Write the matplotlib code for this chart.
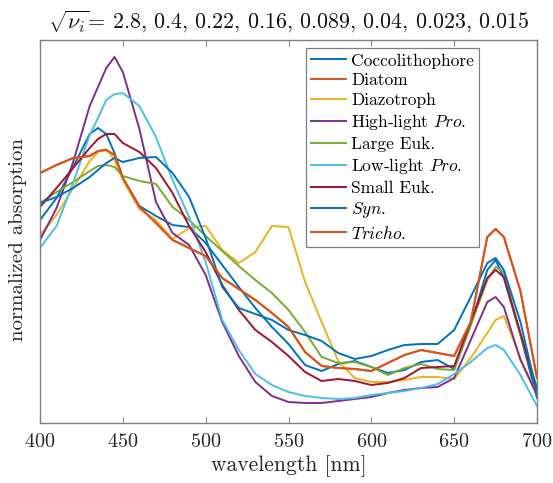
import matplotlib
matplotlib.use("Agg")
import matplotlib.pyplot as plt

# --- dados (absorção normalizada, unidades relativas) ---
wavelength = [400, 410, 420, 430, 435, 440, 445, 450, 460, 470, 480, 490, 500, 510,
              520, 530, 540, 550, 560, 570, 580, 590, 600, 610, 620, 630, 640, 650,
              660, 670, 675, 680, 690, 700]

coccolithophore = [2.03, 2.25, 2.56, 2.89, 2.95, 2.89, 2.70, 2.45, 2.17, 2.07, 1.98, 1.96,
                   1.80, 1.58, 1.36, 1.15, 0.96, 0.79, 0.58, 0.52, 0.59, 0.62, 0.56, 0.50,
                   0.53, 0.61, 0.63, 0.54, 0.98, 1.53, 1.63, 1.45, 0.88, 0.25]
diatom = [2.50, 2.58, 2.65, 2.67, 2.72, 2.73, 2.68, 2.45, 2.16, 2.00, 1.83, 1.75,
          1.67, 1.45, 1.34, 1.23, 1.10, 0.96, 0.71, 0.57, 0.55, 0.54, 0.52, 0.60,
          0.68, 0.73, 0.70, 0.67, 1.01, 1.86, 1.94, 1.86, 1.32, 0.45]
diazotroph = [1.88, 2.08, 2.35, 2.62, 2.71, 2.74, 2.63, 2.43, 2.14, 2.03, 1.84, 1.95,
              1.97, 1.73, 1.60, 1.71, 1.97, 1.96, 1.41, 1.01, 0.62, 0.45, 0.41, 0.41,
              0.43, 0.46, 0.46, 0.44, 0.65, 0.90, 1.03, 1.07, 0.65, 0.28]
high_light_pro = [1.83, 2.15, 2.61, 3.17, 3.36, 3.55, 3.66, 3.51, 2.94, 2.21, 1.90, 1.78,
                  1.48, 1.01, 0.67, 0.41, 0.27, 0.21, 0.20, 0.20, 0.22, 0.24, 0.26, 0.30,
                  0.33, 0.35, 0.36, 0.45, 0.83, 1.21, 1.26, 1.16, 0.63, 0.28]
large_euk = [2.20, 2.31, 2.41, 2.52, 2.57, 2.58, 2.56, 2.47, 2.42, 2.39, 2.16, 2.03,
             1.87, 1.72, 1.57, 1.43, 1.30, 1.13, 0.91, 0.66, 0.60, 0.61, 0.56, 0.48,
             0.55, 0.59, 0.54, 0.53, 0.98, 1.43, 1.56, 1.51, 0.88, 0.36]
low_light_pro = [1.75, 1.97, 2.40, 2.88, 3.05, 3.23, 3.29, 3.30, 3.17, 2.86, 2.43, 2.06,
                 1.61, 1.03, 0.73, 0.49, 0.38, 0.31, 0.27, 0.25, 0.24, 0.25, 0.28, 0.30,
                 0.32, 0.35, 0.39, 0.49, 0.61, 0.75, 0.78, 0.73, 0.48, 0.17]
small_euk = [2.16, 2.35, 2.55, 2.75, 2.84, 2.89, 2.89, 2.80, 2.71, 2.55, 2.30, 1.97,
             1.71, 1.38, 1.13, 0.93, 0.81, 0.67, 0.51, 0.42, 0.44, 0.42, 0.38, 0.40,
             0.45, 0.55, 0.56, 0.57, 1.01, 1.45, 1.53, 1.46, 0.90, 0.33]
syn = [2.20, 2.26, 2.35, 2.46, 2.53, 2.60, 2.65, 2.61, 2.65, 2.66, 2.50, 2.26,
       1.85, 1.36, 1.15, 1.09, 1.03, 0.93, 0.88, 0.82, 0.70, 0.64, 0.67, 0.73,
       0.78, 0.79, 0.79, 0.93, 1.26, 1.60, 1.65, 1.53, 1.01, 0.30]
tricho = [2.50, 2.58, 2.65, 2.67, 2.72, 2.73, 2.68, 2.45, 2.16, 2.00, 1.83, 1.75,
          1.67, 1.45, 1.34, 1.23, 1.10, 0.96, 0.71, 0.57, 0.55, 0.54, 0.52, 0.60,
          0.68, 0.73, 0.70, 0.67, 1.01, 1.86, 1.94, 1.86, 1.32, 0.45]

labels = ['Coccolithophore', 'Diatom', 'Diazotroph', r'High-light $\mathit{Pro.}$',
          'Large Euk.', r'Low-light $\mathit{Pro.}$', 'Small Euk.', r'$\mathit{Syn.}$',
          r'$\mathit{Tricho.}$']
sqrt_nu = ['2.8', '0.4', '0.22', '0.16', '0.089', '0.04', '0.023', '0.015']

# cores padrão do MATLAB
cores = ['#0072BD', '#D95319', '#EDB120', '#7E2F8E', '#77AC30',
         '#4DBEEE', '#A2142F', '#0072BD', '#D95319']


def main():
    plt.rcParams['font.family'] = 'cmr10'
    plt.rcParams['mathtext.fontset'] = 'cm'
    plt.rcParams['axes.formatter.use_mathtext'] = True

    series = [coccolithophore, diatom, diazotroph, high_light_pro, large_euk,
              low_light_pro, small_euk, syn, tricho]

    fig = plt.figure(figsize=(5.53, 4.83), dpi=100)
    ax = fig.add_axes([40 / 553, 1 - 423 / 483, 497 / 553, 383 / 483])

    for y, lab, c in zip(series, labels, cores):
        ax.plot(wavelength, y, color=c, lw=1.4, label=lab)

    ax.set_xlim(400, 700)
    ax.set_ylim(0, 3.83)
    ax.set_xticks(range(400, 701, 50))
    ax.set_yticks([])
    ax.tick_params(axis='x', direction='in', top=True, length=4, width=0.8,
                   color='#808080', labelsize=14.5, labelcolor='#262626', pad=7)
    for s in ax.spines.values():
        s.set_color('#808080')
        s.set_linewidth(1.0)

    ax.set_xlabel('wavelength [nm]', fontsize=15.5, color='#262626', labelpad=3)
    ax.set_ylabel('normalized absorption', fontsize=15, color='#262626')
    ax.yaxis.set_label_coords(-0.026, 0.48)
    ax.set_title(r'$\sqrt{\nu_i}$= ' + ', '.join(sqrt_nu), fontsize=15.8,
                 color='#111111', pad=8)

    leg = ax.legend(loc='upper left', bbox_to_anchor=(306 / 553, 1 - 48 / 483),
                    bbox_transform=fig.transFigure, borderaxespad=0, fontsize=12.5,
                    labelspacing=0.25, handlelength=2.0, handletextpad=0.3,
                    borderpad=0.3, fancybox=False, framealpha=1)
    leg.get_frame().set_edgecolor('#808080')
    leg.get_frame().set_linewidth(0.9)

    fig.savefig('out.png', dpi=100)
    plt.close(fig)


if __name__ == "__main__":
    main()
